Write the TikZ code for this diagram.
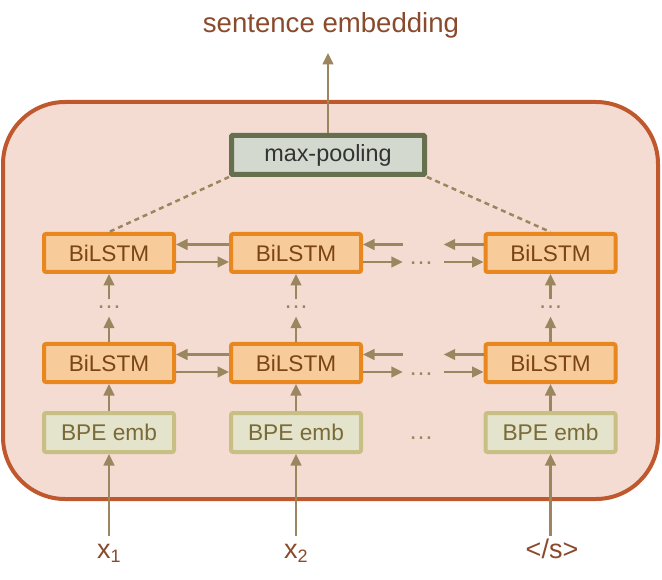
\documentclass[tikz,border=0pt]{standalone}
\usepackage{fontspec}
\setmainfont{Liberation Sans}
\usetikzlibrary{arrows.meta}
\definecolor{framefill}{HTML}{F5DCD3}
\definecolor{framedraw}{HTML}{C0582E}
\definecolor{lstmfill}{HTML}{F8CB9B}
\definecolor{lstmdraw}{HTML}{E8871E}
\definecolor{lstmtext}{HTML}{7A4512}
\definecolor{bpefill}{HTML}{E4E3CB}
\definecolor{bpedraw}{HTML}{C8BF84}
\definecolor{bpetext}{HTML}{7A6A38}
\definecolor{mpfill}{HTML}{D3D9CE}
\definecolor{mpdraw}{HTML}{66704F}
\definecolor{arrcol}{HTML}{9C865F}
\definecolor{labcol}{HTML}{8A4A2C}
\begin{document}
\begin{tikzpicture}[x=1pt,y=-1pt,
  lstm/.style={draw=lstmdraw, fill=lstmfill, line width=4pt, minimum width=130pt, minimum height=38pt, rounded corners=2pt, text=lstmtext, font=\fontsize{22.6}{25}\selectfont, inner sep=0pt},
  bpe/.style={draw=bpedraw, fill=bpefill, line width=4pt, minimum width=130pt, minimum height=39pt, rounded corners=2pt, text=bpetext, font=\fontsize{22.7}{25}\selectfont, inner sep=0pt},
  pool/.style={draw=mpdraw, fill=mpfill, line width=5pt, minimum width=193pt, minimum height=39pt, rounded corners=1pt, text=black!80, font=\fontsize{23.4}{26}\selectfont, inner sep=0pt},
  frame/.style={draw=framedraw, fill=framefill, line width=4pt, minimum width=655pt, minimum height=397pt, rounded corners=62pt, inner sep=0pt},
  lab/.style={text=labcol, font=\fontsize{27}{30}\selectfont, anchor=base, inner sep=0pt, text height=22pt},
  dots/.style={text=arrcol, font=\fontsize{25}{25}\selectfont, inner sep=0pt},
  arr/.style={draw=arrcol, line width=2.5pt, -{Triangle[width=10.5pt,length=11.5pt]}},
  dashline/.style={draw=arrcol, line width=2.5pt, dash pattern=on 5pt off 4pt}
]
\useasboundingbox (0,0) rectangle (662,580);
\node[frame] (frame) at (330.5,300.5) {};

\node[lab, text height=0pt, font=\fontsize{27.6}{30}\selectfont] (title) at (331,33) {sentence embedding};
\node[pool] (mp) at (328,155) {max-pooling};

\node[lstm] (t1) at (109,253) {BiLSTM};
\node[lstm] (t2) at (296,253) {BiLSTM};
\node[lstm] (t3) at (550.5,253) {BiLSTM};
\node[lstm] (b1) at (109,363) {BiLSTM};
\node[lstm] (b2) at (296,363) {BiLSTM};
\node[lstm] (b3) at (550.5,363) {BiLSTM};
\node[bpe] (e1) at (109,432.5) {BPE emb};
\node[bpe] (e2) at (296,432.5) {BPE emb};
\node[bpe] (e3) at (550.5,432.5) {BPE emb};

\node[lab] (x1) at (109,558) {x\raisebox{-0.3ex}{\fontsize{18}{18}\selectfont 1}};
\node[lab] (x2) at (296,558) {x\raisebox{-0.3ex}{\fontsize{18}{18}\selectfont 2}};
\node[lab] (x3) at (552,558) {</s>};

% dots
\node[dots] (vd1) at (109,307) {…};
\node[dots] (vd2) at (296,307) {…};
\node[dots] (vd3) at (550.5,307) {…};
\node[dots] (hd1) at (421,263) {…};
\node[dots] (hd2) at (421,374) {…};
\node[dots] (hd3) at (421,438) {…};

% output arrow
\draw[arr, shorten >=14pt] (mp.north) -- (mp.north |- title.south);

% dashed lines
\draw[dashline] (mp.south west) -- (t1.north);
\draw[dashline] (mp.south east) -- (t3.north);

% inputs
\draw[arr] (x1.north) -- (e1.south);
\draw[arr] (x2.north) -- (e2.south);
\draw[arr] (x3.north -| e3.south) -- (e3.south);
\draw[arr] (e1.north) -- (b1.south);
\draw[arr] (e2.north) -- (b2.south);
\draw[arr] (e3.north) -- (b3.south);

% vertical through dots
\foreach \b/\d/\t in {b1/vd1/t1, b2/vd2/t2, b3/vd3/t3}{
  \draw[arr, shorten >=8pt] (\b.north) -- (\d.south);
  \draw[arr, shorten <=6pt] (\d.north) -- (\t.south);
}

% horizontal arrows
\foreach \l/\m/\r/\d in {t1/t2/t3/hd1, b1/b2/b3/hd2}{
  \draw[arr] ([yshift=8.5pt]\m.west) -- ([yshift=8.5pt]\l.east);
  \draw[arr] ([yshift=-9pt]\l.east) -- ([yshift=-9pt]\m.west);
  \draw[arr, shorten <=5.5pt] ([yshift=8.5pt]\m.east -| \d.west) -- ([yshift=8.5pt]\m.east);
  \draw[arr, shorten >=5.5pt] ([yshift=-9pt]\m.east) -- ([yshift=-9pt]\m.east -| \d.west);
  \draw[arr, shorten >=10pt] ([yshift=8.5pt]\r.west) -- ([yshift=8.5pt]\r.west -| \d.east);
  \draw[arr, shorten <=10pt] ([yshift=-9pt]\r.west -| \d.east) -- ([yshift=-9pt]\r.west);
}
\end{tikzpicture}
\end{document}
